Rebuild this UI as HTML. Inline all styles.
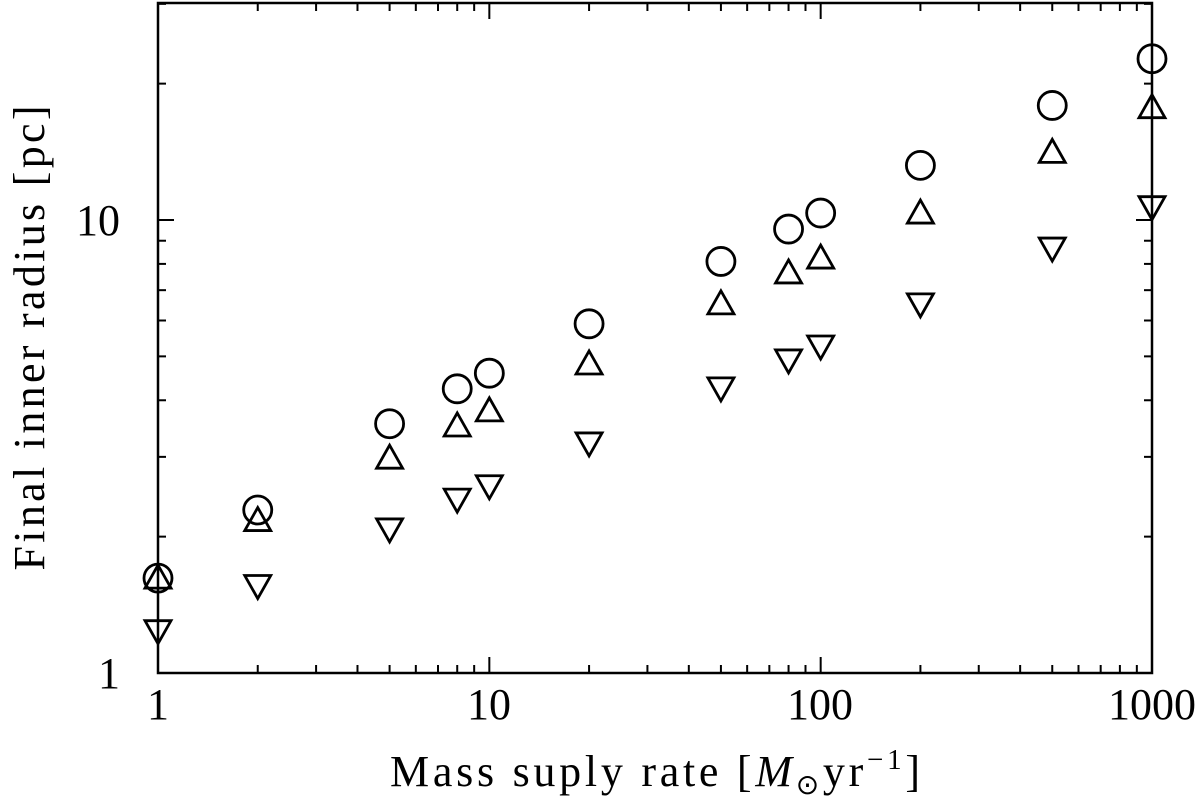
<!DOCTYPE html>
<html><head><meta charset="utf-8"><style>
html,body{margin:0;padding:0;background:#fff;}
svg text{font-family:"Liberation Serif",serif;fill:#000;}
</style></head><body>
<svg id="chart" width="1200" height="804" xmlns="http://www.w3.org/2000/svg">
<g id="ticks"></g>
<g id="marks"></g>
<rect x="158" y="3" width="994" height="670" fill="none" stroke="#000" stroke-width="2.5"/>
<text x="158" y="719" font-size="44" text-anchor="middle">1</text>
<text x="489" y="719" font-size="44" text-anchor="middle">10</text>
<text x="820" y="719" font-size="44" text-anchor="middle">100</text>
<text x="1152" y="719" font-size="44" text-anchor="middle">1000</text>
<text x="120" y="688" font-size="44" text-anchor="end">1</text>
<text x="120" y="235" font-size="44" text-anchor="end">10</text>
<text x="390" y="786" font-size="44" textLength="530" lengthAdjust="spacing">Mass suply rate [<tspan font-style="italic">M</tspan><tspan font-size="28" dy="8">⊙</tspan><tspan dy="-8">yr</tspan><tspan font-size="29" dy="-17">−1</tspan><tspan dy="17">]</tspan></text>
<text transform="translate(44,338) rotate(-90)" font-size="44" text-anchor="middle" textLength="465" lengthAdjust="spacing">Final inner radius [pc]</text>
</svg>
<script>
const xValues=[1,2,5,8,10,20,50,80,100,200,500,1000];
const circleValues=[1.62,2.29,3.55,4.24,4.59,5.9,8.1,9.55,10.36,13.2,17.9,22.7];
const upValues=[1.62,2.17,2.98,3.51,3.79,4.81,6.53,7.64,8.24,10.36,14.1,17.7];
const downValues=[1.24,1.56,2.08,2.42,2.59,3.22,4.26,4.91,5.27,6.53,8.67,10.7];
const NS='http://www.w3.org/2000/svg';
const X0=158,X1=1152,Y0=673,Y1=3,YMAX=Math.pow(10,(673-3)/453);
function sx(v){return X0+(X1-X0)*Math.log10(v)/3;}
function sy(v){return Y0-(Y0-Y1)*Math.log10(v)/Math.log10(YMAX);}
function mk(tag,attrs){const e=document.createElementNS(NS,tag);for(const k in attrs)e.setAttribute(k,attrs[k]);return e;}
const tg=document.getElementById('ticks');
for(let d=0;d<3;d++)for(let m=1;m<10;m++){const v=m*Math.pow(10,d);const x=sx(v);const L=m===1?16:8;
 const a=mk('line',{x1:x,x2:x,y1:Y0,y2:Y0-L,stroke:'#000','stroke-width':2});tg.appendChild(a);
 const b=mk('line',{x1:x,x2:x,y1:Y1,y2:Y1+L,stroke:'#000','stroke-width':2});tg.appendChild(b);}
for(let d=0;d<2;d++)for(let m=1;m<10;m++){const v=m*Math.pow(10,d);if(v>YMAX)continue;const y=sy(v);const L=m===1?16:8;
 const a=mk('line',{x1:X0,x2:X0+L,y1:y,y2:y,stroke:'#000','stroke-width':2});tg.appendChild(a);
 const b=mk('line',{x1:X1,x2:X1-L,y1:y,y2:y,stroke:'#000','stroke-width':2});tg.appendChild(b);}
const g=document.getElementById('marks');
const st={fill:'none',stroke:'#000','stroke-width':2.8};
xValues.forEach((xv,i)=>{
 const x=sx(xv);
 let y=sy(circleValues[i]);
 const c=mk('circle',Object.assign({cx:x,cy:y,r:14},st));g.appendChild(c);
 y=sy(upValues[i]);
 const u=mk('polygon',Object.assign({points:`${x-13},${y+10} ${x+13},${y+10} ${x},${y-13}`},st));g.appendChild(u);
 y=sy(downValues[i]);
 const dn=mk('polygon',Object.assign({points:`${x-13},${y-10} ${x+13},${y-10} ${x},${y+13}`},st));g.appendChild(dn);
});
</script>
</body></html>
